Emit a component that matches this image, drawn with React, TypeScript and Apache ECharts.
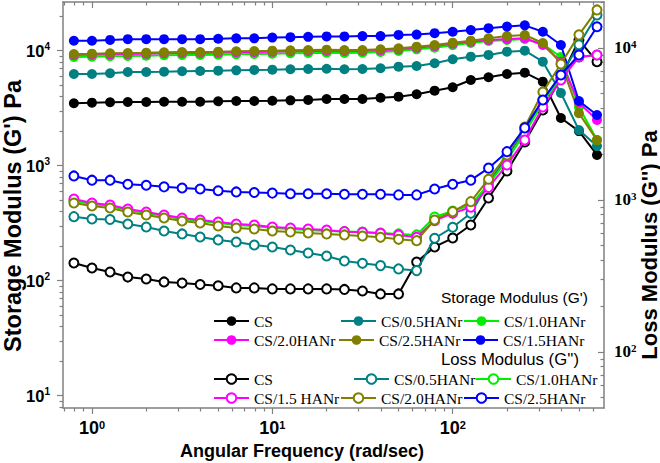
import React, { useEffect, useRef } from 'react';
import * as echarts from 'echarts';

// Angular frequency (rad/s)
const frequency = [0.794, 1, 1.26, 1.58, 2, 2.51, 3.16, 3.98, 5.01, 6.31, 7.94, 10, 12.6, 15.8, 20, 25.1, 31.6, 39.8, 50.1, 63.1, 79.4, 100, 126, 158, 200, 251, 316, 398, 501, 631];

// Storage modulus G' (Pa), left axis
const storageCS = [3490, 3530, 3560, 3580, 3580, 3600, 3600, 3600, 3630, 3650, 3650, 3670, 3700, 3730, 3800, 3800, 3800, 3900, 3980, 4180, 4490, 4810, 5560, 5870, 6270, 6440, 5380, 2600, 2000, 1240];
const storage05 = [6270, 6270, 6360, 6530, 6530, 6570, 6620, 6660, 6700, 6750, 6800, 6840, 6890, 6930, 6970, 6900, 6930, 7030, 7260, 7360, 7780, 8420, 8870, 9180, 9800, 10000, 8030, 4290, 2040, 1480];
const storage10 = [8820, 8870, 8940, 8990, 9050, 9120, 9180, 9180, 9230, 9300, 9360, 9420, 9490, 9550, 9610, 9550, 9610, 9740, 9940, 10280, 10620, 11140, 11670, 12150, 12390, 12640, 11440, 8820, 3240, 1670];
const storage20 = [9180, 9230, 9300, 9360, 9420, 9490, 9550, 9550, 9610, 9690, 9740, 9800, 9880, 9940, 10000, 9940, 9940, 10080, 10280, 10620, 10990, 11500, 11980, 12390, 12640, 12820, 11210, 8030, 3530, 2500];
const storage25 = [9360, 9420, 9490, 9550, 9610, 9690, 9740, 9740, 9800, 9880, 9940, 10000, 10080, 10140, 10200, 10140, 10140, 10280, 10490, 10830, 11210, 11740, 12220, 12820, 13420, 13690, 11670, 7780, 2860, 1670];
const storage15 = [12200, 12200, 12400, 12600, 12600, 12600, 12600, 12600, 12700, 12800, 12800, 13000, 13100, 13200, 13300, 13300, 13400, 13400, 13700, 13800, 14200, 14600, 15100, 15700, 16200, 16600, 14600, 11200, 3650, 2760];

// Loss modulus G'' (Pa), right axis
const lossCS = [385, 357, 336, 311, 302, 289, 284, 278, 273, 264, 264, 260, 260, 260, 260, 258, 252, 241, 241, 391, 491, 562, 685, 1030, 1550, 2410, 3910, 6350, 11300, 8130];
const loss05 = [777, 750, 744, 695, 664, 625, 598, 571, 546, 529, 506, 491, 469, 448, 428, 397, 383, 370, 352, 343, 560, 661, 817, 1290, 1930, 2890, 4550, 6640, 10500, 16500];
const loss10 = [985, 941, 913, 860, 821, 785, 750, 727, 706, 685, 674, 654, 644, 635, 625, 621, 616, 607, 598, 589, 773, 847, 927, 1270, 1830, 2760, 4350, 6350, 8730, 8990];
const loss15 = [1015, 956, 927, 873, 834, 797, 761, 739, 717, 695, 685, 664, 654, 644, 635, 619, 613, 604, 589, 568, 731, 817, 895, 1210, 1700, 2480, 4090, 6160, 8730, 8990];
const loss20 = [956, 913, 886, 834, 797, 761, 727, 706, 674, 654, 644, 625, 616, 607, 598, 589, 580, 568, 551, 540, 739, 838, 975, 1370, 1980, 3020, 5130, 7850, 12200, 17800];
const loss25 = [1440, 1350, 1350, 1270, 1250, 1220, 1200, 1180, 1150, 1130, 1120, 1110, 1100, 1100, 1100, 1090, 1090, 1090, 1080, 1080, 1180, 1270, 1350, 1620, 2080, 2980, 4550, 6640, 8990, 13800];

// Axis ticks
const xMajor = [1, 10, 100];
const xMinor = [0.7, 0.8, 0.9, 2, 3, 4, 5, 6, 7, 8, 9, 20, 30, 40, 50, 60, 70, 80, 90, 200, 300, 400, 500, 600];
const leftMajor = [10, 100, 1000, 10000];
const leftMinor = [8, 9, 20, 30, 40, 50, 60, 70, 80, 90, 200, 300, 400, 500, 600, 700, 800, 900, 2000, 3000, 4000, 5000, 6000, 7000, 8000, 9000, 20000];
const rightMajor = [100, 1000, 10000];
const rightMinor = [50, 60, 70, 80, 90, 200, 300, 400, 500, 600, 700, 800, 900, 2000, 3000, 4000, 5000, 6000, 7000, 8000, 9000, 20000];

const X_MIN = 0.691, X_MAX = 690;
const L_MIN = 7.82, L_MAX = 26500;
const R_MIN = 42.8, R_MAX = 20070;

const storageSeries = [
  { label: 'CS', color: '#000000', data: storageCS },
  { label: 'CS/0.5HANr', color: '#008080', data: storage05 },
  { label: 'CS/1.0HANr', color: '#00ee00', data: storage10 },
  { label: 'CS/2.0HANr', color: '#ff00ff', data: storage20 },
  { label: 'CS/2.5HANr', color: '#808000', data: storage25 },
  { label: 'CS/1.5HANr', color: '#0000ff', data: storage15 },
];
const lossSeries = [
  { label: 'CS', color: '#000000', data: lossCS },
  { label: 'CS/0.5HANr', color: '#008080', data: loss05 },
  { label: 'CS/1.0HANr', color: '#00ee00', data: loss10 },
  { label: 'CS/1.5 HANr', color: '#ff00ff', data: loss15 },
  { label: 'CS/2.0HANr', color: '#808000', data: loss20 },
  { label: 'CS/2.5HANr', color: '#0000ff', data: loss25 },
];

// legend placement: [series name, left, centerY]
const legendPlaces: [string, number, number][] = [
  ["G' CS", 213, 319], ["G' CS/0.5HANr", 340, 319], ["G' CS/1.0HANr", 463, 319],
  ["G' CS/2.0HANr", 213, 338], ["G' CS/2.5HANr", 338, 338], ["G' CS/1.5HANr", 462, 338],
  ["G'' CS", 213, 377], ["G'' CS/0.5HANr", 353, 377], ["G'' CS/1.0HANr", 475, 377],
  ["G'' CS/1.5 HANr", 213, 396], ["G'' CS/2.0HANr", 340, 396], ["G'' CS/2.5HANr", 463, 396],
];

const FRAME = '#808080';

function supLabel(v: number) {
  const e = Math.round(Math.log10(v));
  return `{b|10}{s|${e}}`;
}

function rich(family: string, weight: string, size: number, supSize: number) {
  return {
    b: { fontFamily: family, fontWeight: weight, fontSize: size, color: '#000', lineHeight: 18 },
    s: { fontFamily: family, fontWeight: weight, fontSize: supSize, color: '#000', lineHeight: 4, verticalAlign: 'top' },
  };
}

function logAxis(min: number, max: number) {
  return {
    type: 'log',
    logBase: 10,
    min,
    max,
    splitLine: { show: false },
    minorTick: { show: false },
    minorSplitLine: { show: false },
  };
}

export default function App() {
  const ref = useRef<HTMLDivElement>(null);
  useEffect(() => {
    const chart = echarts.init(ref.current!, undefined, { renderer: 'svg' });
    const lineFrame = { show: true, onZero: false, lineStyle: { color: FRAME, width: 1.5 } };
    const tickStyle = { color: FRAME, width: 1.2 };

    const xAxis: any[] = [
      {
        ...logAxis(X_MIN, X_MAX), position: 'bottom', axisLine: lineFrame,
        axisTick: { show: true, customValues: xMajor, length: 6, inside: false, lineStyle: tickStyle },
        axisLabel: { show: true, customValues: xMajor, formatter: supLabel, margin: 11, rich: rich('Liberation Sans', 'bold', 18, 11) },
      },
      {
        ...logAxis(X_MIN, X_MAX), position: 'bottom', axisLine: { show: false },
        axisTick: { show: true, customValues: xMinor, length: 3.5, inside: false, lineStyle: tickStyle },
        axisLabel: { show: false },
      },
      {
        ...logAxis(X_MIN, X_MAX), position: 'top', axisLine: lineFrame,
        axisTick: { show: true, customValues: xMajor, length: 6, inside: true, lineStyle: tickStyle },
        axisLabel: { show: false },
      },
      {
        ...logAxis(X_MIN, X_MAX), position: 'top', axisLine: { show: false },
        axisTick: { show: true, customValues: xMinor, length: 3.5, inside: true, lineStyle: tickStyle },
        axisLabel: { show: false },
      },
    ];

    const yAxis: any[] = [
      {
        ...logAxis(L_MIN, L_MAX), position: 'left', axisLine: lineFrame,
        axisTick: { show: true, customValues: leftMajor, length: 6, inside: false, lineStyle: tickStyle },
        axisLabel: { show: true, customValues: leftMajor, formatter: supLabel, margin: 13, rich: rich('Liberation Sans', 'bold', 16.5, 10) },
      },
      {
        ...logAxis(L_MIN, L_MAX), position: 'left', axisLine: { show: false },
        axisTick: { show: true, customValues: leftMinor, length: 3.5, inside: false, lineStyle: tickStyle },
        axisLabel: { show: false },
      },
      {
        ...logAxis(R_MIN, R_MAX), position: 'right', axisLine: lineFrame,
        axisTick: { show: true, customValues: rightMajor, length: 6, inside: true, lineStyle: tickStyle },
        axisLabel: { show: true, customValues: rightMajor, formatter: supLabel, margin: 10, rich: rich('Liberation Serif', 'bold', 17, 11) },
      },
      {
        ...logAxis(R_MIN, R_MAX), position: 'right', axisLine: { show: false },
        axisTick: { show: true, customValues: rightMinor, length: 3.5, inside: true, lineStyle: tickStyle },
        axisLabel: { show: false },
      },
    ];

    const series: any[] = [];
    storageSeries.forEach((s, i) => {
      series.push({
        name: "G' " + s.label,
        type: 'line',
        xAxisIndex: 0,
        yAxisIndex: 0,
        data: frequency.map((f, k) => [f, s.data[k]]),
        symbol: 'circle',
        symbolSize: 10,
        lineStyle: { color: s.color, width: 2 },
        itemStyle: { color: s.color },
        z: 2 + i * 0.01,
      });
    });
    lossSeries.forEach((s, i) => {
      series.push({
        name: "G'' " + s.label,
        type: 'line',
        xAxisIndex: 0,
        yAxisIndex: 2,
        data: frequency.map((f, k) => [f, s.data[k]]),
        symbol: 'emptyCircle',
        symbolSize: 9,
        lineStyle: { color: s.color, width: 2 },
        itemStyle: { color: s.color, borderColor: s.color, borderWidth: 1.5 },
        z: 3 + i * 0.01,
      });
    });

    const legend = legendPlaces.map(([name, left, cy]) => ({
      show: true,
      data: [name],
      left,
      top: cy - 6,
      padding: 0,
      itemWidth: 35,
      itemHeight: 12,
      itemGap: 0,
      selectedMode: false,
      formatter: (n: string) => n.replace(/^G'+ /, ''),
      textStyle: { fontFamily: 'Liberation Serif', fontSize: 15.5, color: '#000', lineHeight: 12 },
    }));

    const titleFont = { fontFamily: 'Liberation Sans', fontWeight: 'bold', fill: '#000' };

    const option: any = {
      animation: false,
      backgroundColor: '#ffffff',
      grid: { left: 63, top: 2, width: 541, height: 406, containLabel: false, outerBoundsMode: 'none' },
      xAxis,
      yAxis,
      series,
      legend,
      graphic: [
        { type: 'text', x: 302, y: 451, style: { ...titleFont, text: 'Angular Frequency (rad/sec)', fontSize: 18, align: 'center', verticalAlign: 'middle' } },
        { type: 'text', x: 13, y: 216, rotation: Math.PI / 2, style: { ...titleFont, text: "Storage Modulus (G') Pa", fontSize: 23.5, align: 'center', verticalAlign: 'middle' } },
        { type: 'text', x: 649, y: 245, rotation: Math.PI / 2, style: { ...titleFont, text: "Loss Modulus (G'') Pa", fontSize: 22, align: 'center', verticalAlign: 'middle' } },
        { type: 'text', x: 441, y: 297, style: { fontFamily: 'Liberation Sans', fill: '#000', text: "Storage Modulus (G')", fontSize: 15.5, align: 'left', verticalAlign: 'middle' } },
        { type: 'text', x: 441, y: 359, style: { fontFamily: 'Liberation Sans', fill: '#000', text: "Loss Modulus (G'')", fontSize: 16.7, align: 'left', verticalAlign: 'middle' } },
      ],
    };
    chart.setOption(option);
    return () => chart.dispose();
  }, []);
  return <div ref={ref} style={{ position: 'fixed', left: 0, top: 0, width: 660, height: 463, background: '#fff' }} />;
}
